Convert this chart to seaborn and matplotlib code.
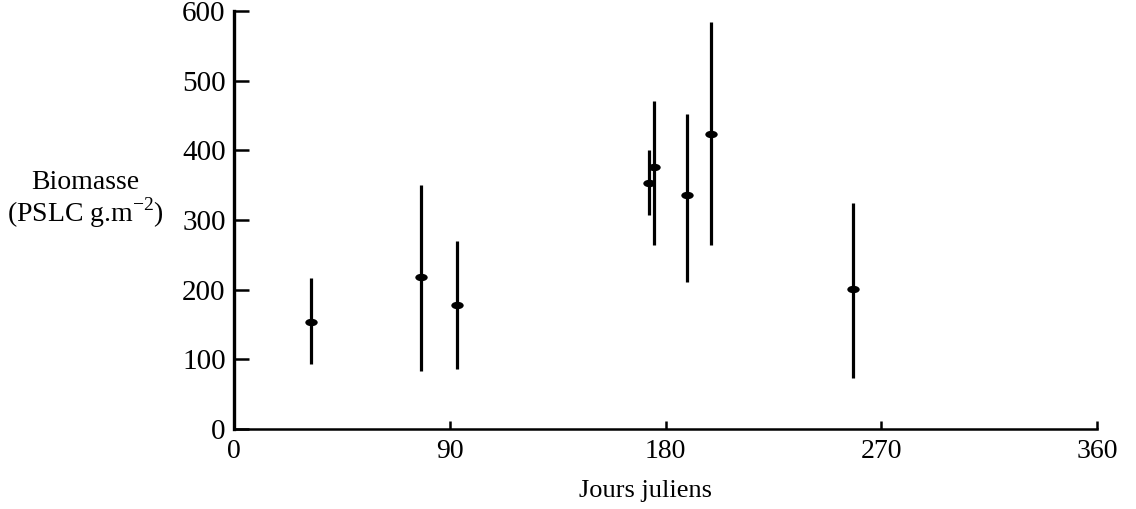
import matplotlib
matplotlib.use("Agg")
import matplotlib.pyplot as plt
from matplotlib.path import Path
from matplotlib.transforms import Affine2D
import seaborn as sns
import numpy as np
import pandas as pd

# Data
days = [32, 78, 93, 173, 175, 189, 199, 258]
biomass = [154, 219, 178, 354, 376, 336, 423, 201]
err_low = [93, 83, 86, 307, 264, 211, 265, 73]
err_high = [217, 351, 270, 400, 471, 453, 585, 324]
x_ticks = [0, 90, 180, 270, 360]
y_ticks = [0, 100, 200, 300, 400, 500, 600]

sns.set_theme(style="white")
plt.rcParams['font.family'] = ['Liberation Serif', 'DejaVu Serif']
plt.rcParams['text.color'] = 'black'
plt.rcParams['axes.labelcolor'] = 'black'

df = pd.DataFrame({"Jour": days, "Biomasse": biomass,
                   "low": err_low, "high": err_high})

# horizontal ellipse marker
ellipse = Path.unit_circle().transformed(Affine2D().scale(1.0, 0.6))

fig = plt.figure(figsize=(11.36, 5.09), dpi=100)
ax = fig.add_axes([0.206, 0.157, 0.7597, 0.821])

ax.vlines(df["Jour"], df["low"], df["high"], colors="black", linewidth=2.3)
sns.scatterplot(data=df, x="Jour", y="Biomasse", ax=ax, color="black",
                marker=ellipse, s=80, edgecolor="black", linewidth=0, zorder=3)

ax.set_xlim(0, 360)
ax.set_ylim(0, 600)
ax.set_xticks(x_ticks)
ax.set_yticks(y_ticks)
ax.set_xticklabels([str(v) for v in x_ticks])
ax.set_yticklabels([str(v) for v in y_ticks])

for s in ["top", "right"]:
    ax.spines[s].set_visible(False)
ax.spines["left"].set_color("black")
ax.spines["left"].set_linewidth(2.4)
ax.spines["bottom"].set_color("black")
ax.spines["bottom"].set_linewidth(1.8)

ax.tick_params(axis="y", direction="in", length=11, width=1.8, labelsize=21,
               pad=6, left=True, colors="black")
ax.tick_params(axis="x", direction="in", length=6, width=1.8, labelsize=20,
               pad=7, bottom=True, colors="black")

ax.set_xlabel("Jours juliens", fontsize=19, color="black")
ax.xaxis.set_label_coords(0.477, -0.122)
ax.set_ylabel("")
fig.text(0.075, 0.642, "Biomasse", fontsize=20, ha="center", va="center",
         color="black")
fig.text(0.075, 0.582, "(PSLC g.m$^{\\mathregular{-2}}$)", fontsize=20,
         ha="center", va="center", color="black")

fig.savefig("out.png", dpi=100)
